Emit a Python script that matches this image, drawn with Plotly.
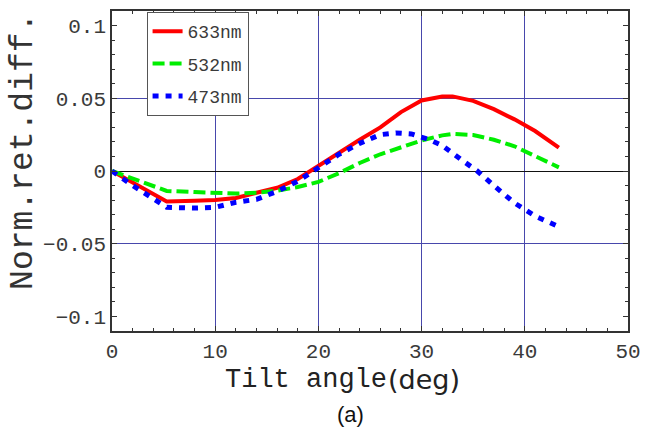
import plotly.graph_objects as go

# ---- data ----
x_633 = [0, 5.3, 8, 10, 12, 14, 16, 18, 20, 22, 24, 26, 28, 30, 32, 33, 35, 37, 39, 41, 43.3]
y_633 = [0, -0.021, -0.0205, -0.020, -0.0185, -0.0152, -0.0115, -0.0055, 0.0035, 0.0132,
         0.0215, 0.0300, 0.0405, 0.0485, 0.0512, 0.0513, 0.0482, 0.0425, 0.0355, 0.0275, 0.016]

x_532 = [0, 5.3, 8, 10, 12, 14, 16, 18, 20, 22, 24, 26, 28, 30, 32, 33, 35, 37, 39, 41, 43.3]
y_532 = [0, -0.0137, -0.0145, -0.015, -0.0155, -0.015, -0.0135, -0.011, -0.0075, -0.0015,
         0.0055, 0.0115, 0.0165, 0.021, 0.0245, 0.0255, 0.0248, 0.0215, 0.017, 0.0105, 0.0025]

x_473 = [0, 2, 5.3, 8, 10, 12, 14, 16, 18, 20, 22, 24, 26, 27.5, 29, 30.7, 32, 34, 35.4,
         37, 39, 41, 43.2]
y_473 = [0, -0.010, -0.025, -0.0255, -0.025, -0.0215, -0.0195, -0.014, -0.007, 0.0025,
         0.0115, 0.019, 0.025, 0.0262, 0.0255, 0.0217, 0.0175, 0.007, 0.0,
         -0.010, -0.022, -0.031, -0.038]

series_names = ["633nm", "532nm", "473nm"]
x_ticks = [0, 10, 20, 30, 40, 50]
y_ticks = [-0.1, -0.05, 0, 0.05, 0.1]
y_ticktext = ["\u22120.1", "\u22120.05", "0", "0.05", "0.1"]
y_grid = [-0.05, 0.05]
x_title_main = "Tilt angle"
x_title_unit = "(deg&#41;"

MONO = "Liberation Mono"
SANS = "Liberation Sans"
GRID = "#4848ac"
FRAME = "#333333"
TXT = "#3a3a3a"

fig = go.Figure()
fig.add_trace(go.Scatter(x=x_633, y=y_633, mode="lines", name=series_names[0],
                         legendgroup="a", line=dict(color="#ff0000", width=4)))
fig.add_trace(go.Scatter(x=x_532, y=y_532, mode="lines", name=series_names[1],
                         legendgroup="b", line=dict(color="#00ee00", width=4, dash="12px,5px")))
fig.add_trace(go.Scatter(x=x_473, y=y_473, mode="lines", name=series_names[2],
                         legendgroup="c", line=dict(color="#0000ff", width=5, dash="6px,7px")))
# empty helper trace so the grid-only overlay axis is drawn
fig.add_trace(go.Scatter(x=[], y=[], yaxis="y2", showlegend=False, hoverinfo="skip"))

fig.update_layout(
    width=650, height=433,
    margin=dict(l=112, r=18, t=9, b=102),
    paper_bgcolor="white", plot_bgcolor="white",
    showlegend=True,
    legend=dict(x=0.067, y=0.997, xanchor="left", yanchor="top",
                bgcolor="white", bordercolor="#555555", borderwidth=1,
                font=dict(family=MONO, size=18, color=TXT),
                traceorder="grouped", tracegroupgap=6),
    xaxis=dict(range=[0, 50], tickvals=x_ticks, ticks="inside", ticklen=5,
               tickcolor=FRAME, showline=True, linecolor=FRAME, linewidth=1.5,
               mirror="ticks", showgrid=True, gridcolor=GRID, gridwidth=1,
               zeroline=False,
               minor=dict(dtick=2, ticks="inside", ticklen=3, tickcolor=FRAME, showgrid=False),
               tickfont=dict(family=MONO, size=21, color=TXT)),
    yaxis=dict(range=[-0.11, 0.11], tickvals=y_ticks, ticktext=y_ticktext,
               ticks="inside", ticklen=5, tickcolor=FRAME,
               showline=True, linecolor=FRAME, linewidth=1.5, mirror="ticks",
               showgrid=False, zeroline=True, zerolinecolor="#111111", zerolinewidth=1,
               minor=dict(dtick=0.01, tick0=0, ticks="inside", ticklen=3, tickcolor=FRAME, showgrid=False),
               tickfont=dict(family=MONO, size=21, color=TXT)),
    yaxis2=dict(range=[-0.11, 0.11], overlaying="y", anchor="x", side="left", tickvals=y_grid,
                showticklabels=False, ticks="", showgrid=True, gridcolor=GRID,
                gridwidth=1, zeroline=False, showline=False),
    annotations=[
        dict(text=x_title_main,
             xref="paper", yref="paper", x=0.536, y=-0.152, xanchor="right", yanchor="middle",
             showarrow=False, font=dict(family=MONO, size=27, color="#222222")),
        dict(text=x_title_unit,
             xref="paper", yref="paper", x=0.531, y=-0.152, xanchor="left", yanchor="middle",
             showarrow=False, font=dict(family="DejaVu Sans", size=27, color="#222222")),
        dict(text="Norm.ret.diff.", textangle=-90,
             xref="paper", yref="paper", x=-0.173, y=0.562, xanchor="center", yanchor="middle",
             showarrow=False, font=dict(family=MONO, size=33, color="#333333")),
        dict(text="(a)", xref="paper", yref="paper", x=0.4615, y=-0.261,
             xanchor="center", yanchor="middle", showarrow=False,
             font=dict(family=SANS, size=22, color="#111111")),
    ],
)

fig.write_html("out.html")
